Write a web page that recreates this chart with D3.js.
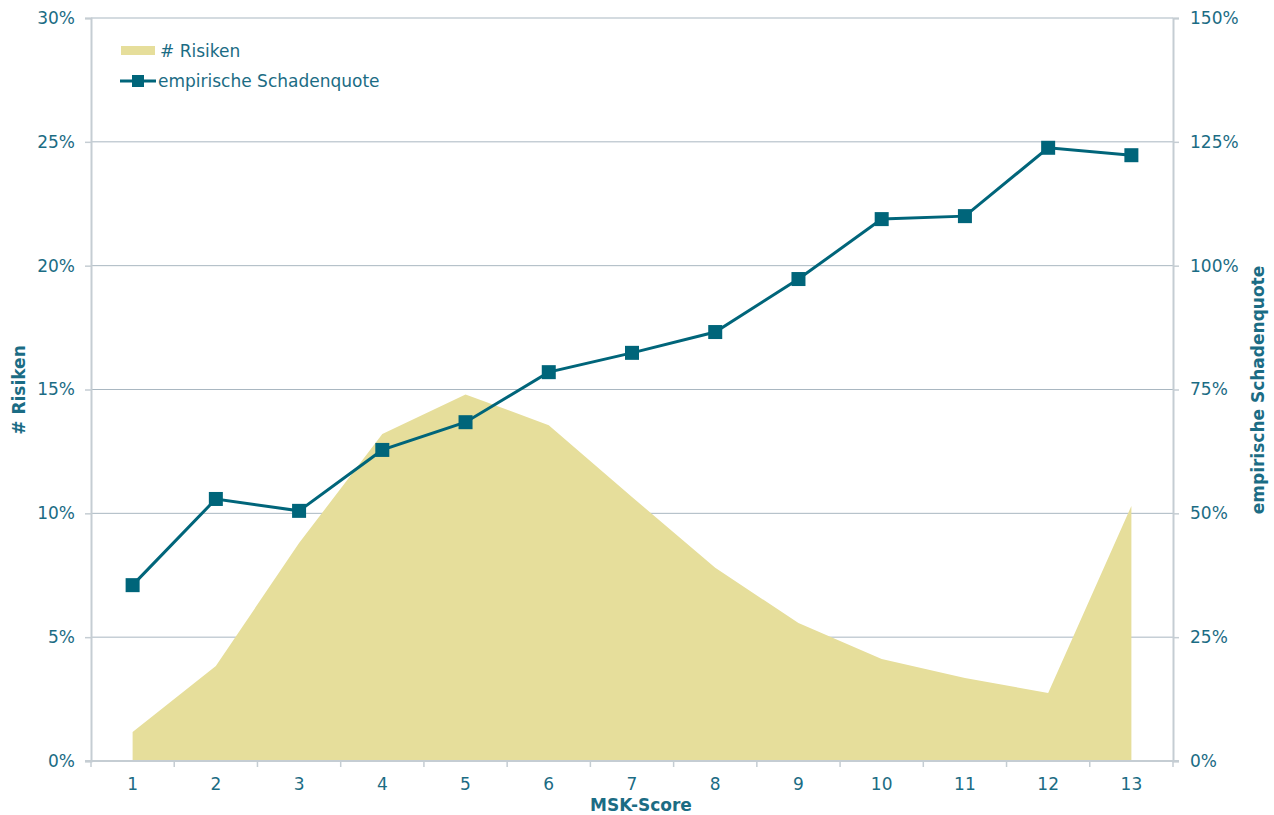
<!DOCTYPE html>
<html>
<head>
<meta charset="utf-8">
<script src="https://cdn.jsdelivr.net/npm/d3@7"></script>
<style>
  html, body { margin: 0; padding: 0; background: #fff; }
  svg { display: block; font-family: "DejaVu Sans", Verdana, sans-serif; }
</style>
</head>
<body>
<svg id="chart" width="1274" height="815"></svg>
<script>
// MSK-Score categories
const scores = ["1","2","3","4","5","6","7","8","9","10","11","12","13"];
// share of risks per score (left axis, %)
const risiken = [1.17, 3.84, 8.8, 13.2, 14.8, 13.56, 10.66, 7.8, 5.57, 4.12, 3.35, 2.75, 10.3];
// empirical loss ratio per score (right axis, %)
const schadenquote = [35.5, 52.9, 50.5, 62.8, 68.4, 78.5, 82.4, 86.6, 97.3, 109.4, 110.0, 123.8, 122.3];
const leftTicks = [0, 5, 10, 15, 20, 25, 30];
const rightTicks = [0, 25, 50, 75, 100, 125, 150];

const textColor = "#1B6C84";
const lineColor = "#00657A";
const areaColor = "#E6DE9B";
const gridColor = "#A9B7C1";
const axisColor = "#C5CDD3";

const svg = d3.select("#chart");
const m = { left: 91, right: 1173, top: 18, bottom: 761 };

const x = d3.scaleBand().domain(scores).range([m.left, m.right]);
const xc = d => x(d) + x.bandwidth() / 2;
const yL = d3.scaleLinear().domain([0, 30]).range([m.bottom, m.top]);
const yR = d3.scaleLinear().domain([0, 150]).range([m.bottom, m.top]);

// horizontal gridlines
svg.append("g").selectAll("line").data(leftTicks.filter(t => t > 0)).join("line")
  .attr("x1", m.left).attr("x2", m.right)
  .attr("y1", d => yL(d)).attr("y2", d => yL(d))
  .attr("stroke", gridColor).attr("stroke-width", 1);

// area: # Risiken
const area = d3.area().x((d, i) => xc(scores[i])).y0(yL(0)).y1(d => yL(d));
svg.append("path").datum(risiken).attr("d", area).attr("fill", areaColor);

// axes
const fontSize = 17;
const gL = svg.append("g").attr("transform", `translate(${m.left},0)`)
  .call(d3.axisLeft(yL).tickValues(leftTicks).tickFormat(d => d + "%").tickSize(6).tickPadding(10));
const gR = svg.append("g").attr("transform", `translate(${m.right},0)`)
  .call(d3.axisRight(yR).tickValues(rightTicks).tickFormat(d => d + "%").tickSize(6).tickPadding(11));
[gL, gR].forEach(g => {
  g.select(".domain").attr("stroke", axisColor).attr("stroke-width", 2);
  g.selectAll(".tick line").attr("stroke", axisColor).attr("stroke-width", 1.5);
  g.selectAll(".tick text").attr("fill", textColor).attr("font-size", fontSize)
    .attr("font-family", "'DejaVu Sans', Verdana, sans-serif");
});

// x axis baseline with ticks between categories
const gX = svg.append("g");
gX.append("line").attr("x1", m.left - 6).attr("x2", m.right + 6)
  .attr("y1", m.bottom).attr("y2", m.bottom)
  .attr("stroke", axisColor).attr("stroke-width", 2);
const bounds = scores.map(s => x(s)).concat([m.right]);
gX.selectAll("line.tk").data(bounds).join("line").attr("class", "tk")
  .attr("x1", d => d).attr("x2", d => d)
  .attr("y1", m.bottom).attr("y2", m.bottom + 6)
  .attr("stroke", axisColor).attr("stroke-width", 1.5);
gX.selectAll("text").data(scores).join("text")
  .attr("x", d => xc(d)).attr("y", 790)
  .attr("text-anchor", "middle").attr("fill", textColor).attr("font-size", fontSize)
  .text(d => d);

// line: empirische Schadenquote
const line = d3.line().x((d, i) => xc(scores[i])).y(d => yR(d));
svg.append("path").datum(schadenquote).attr("d", line)
  .attr("fill", "none").attr("stroke", lineColor).attr("stroke-width", 3);
const ms = 14;
svg.append("g").selectAll("rect").data(schadenquote).join("rect")
  .attr("x", (d, i) => xc(scores[i]) - ms / 2).attr("y", d => yR(d) - ms / 2)
  .attr("width", ms).attr("height", ms).attr("fill", lineColor);

// axis titles
svg.append("text").attr("transform", "translate(25,390) rotate(-90)")
  .attr("text-anchor", "middle").attr("font-weight", "bold").attr("font-size", fontSize)
  .attr("fill", textColor).text("# Risiken");
svg.append("text").attr("transform", "translate(1264,390) rotate(-90)")
  .attr("text-anchor", "middle").attr("font-weight", "bold").attr("font-size", fontSize)
  .attr("fill", textColor).text("empirische Schadenquote");
svg.append("text").attr("x", 641).attr("y", 811)
  .attr("text-anchor", "middle").attr("font-weight", "bold").attr("font-size", fontSize)
  .attr("fill", textColor).text("MSK-Score");

// legend
const lg = svg.append("g");
lg.append("rect").attr("x", 121).attr("y", 46).attr("width", 34).attr("height", 9).attr("fill", areaColor);
lg.append("text").attr("x", 160).attr("y", 57).attr("font-size", fontSize).attr("fill", textColor).text("# Risiken");
lg.append("line").attr("x1", 120).attr("x2", 156).attr("y1", 81).attr("y2", 81)
  .attr("stroke", lineColor).attr("stroke-width", 3);
lg.append("rect").attr("x", 132).attr("y", 75).attr("width", 12).attr("height", 12).attr("fill", lineColor);
lg.append("text").attr("x", 158).attr("y", 87).attr("font-size", fontSize).attr("fill", textColor).text("empirische Schadenquote");
</script>
</body>
</html>
